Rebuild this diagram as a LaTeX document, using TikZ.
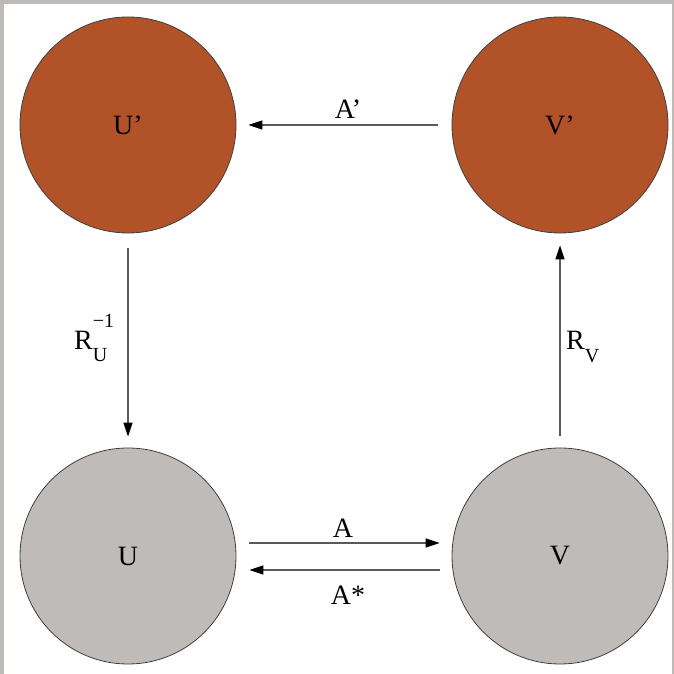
\documentclass[tikz,border=0pt]{standalone}
\usepackage{fontspec}
\setmainfont{Liberation Serif}
\usetikzlibrary{arrows.meta}
\definecolor{rust}{RGB}{178,82,40}
\definecolor{lgray}{RGB}{191,187,185}
\definecolor{framegray}{RGB}{190,186,184}
\definecolor{linegray}{RGB}{90,90,90}
\newcommand{\bigf}{\fontsize{28}{30}\selectfont}
\newcommand{\smallf}{\fontsize{20}{22}\selectfont}
\tikzset{
  blob/.style={circle, draw=black!75, line width=0.8pt, minimum size=216pt, inner sep=0pt, font=\bigf},
  hot/.style={blob, fill=rust},
  cold/.style={blob, fill=lgray},
  conn/.style={draw=linegray, line width=1.4pt, -{Triangle[length=14pt,width=9pt,color=black]}},
  lab/.style={font=\bigf, inner sep=0pt, anchor=base}
}
\begin{document}
\begin{tikzpicture}[x=1pt,y=1pt]
\useasboundingbox (0,0) rectangle (674,674);
\fill[framegray] (0,0) rectangle (674,674);
\fill[white] (4,0) rectangle (672,670);
\node[hot] (Up) at (128,549) {U’};
\node[hot] (Vp) at (560,549) {V’};
\node[cold] (U) at (128,118) {U};
\node[cold] (V) at (560,118) {V};
\draw[conn, shorten <=14pt, shorten >=12pt] (Vp.west) -- (Up.east);
\draw[conn, shorten <=15pt, shorten >=11pt] (Up.south) -- (U.north);
\draw[conn, shorten <=12pt, shorten >=12pt] (V.north) -- (Vp.south);
\draw[conn, shorten <=13pt, shorten >=12pt] ([yshift=13pt]U.east) -- ([yshift=13pt]V.west);
\draw[conn, shorten <=12pt, shorten >=13pt] ([yshift=-14pt]V.west) -- ([yshift=-14pt]U.east);
\node[lab] (la) at (343,136) {A};
\node[lab] (las) at (348,69) {A*};
\node[lab] (lap) at (348,555) {A’};
\node[lab, anchor=base west] (lru) at (74,324) {R\rlap{\raisebox{22pt}{\smallf −1}}\raisebox{-12pt}{\smallf U}};
\node[lab, anchor=base west] (lrv) at (566,324) {R\raisebox{-13pt}{\smallf V}};
\end{tikzpicture}
\end{document}
